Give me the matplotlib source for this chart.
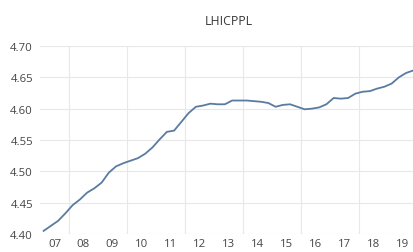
import numpy as np
import matplotlib
matplotlib.use('Agg')
import matplotlib.pyplot as plt

# quarterly series 2007Q1 - 2019Q4
lhicppl = [
    4.405, 4.413, 4.421, 4.433,
    4.446, 4.455, 4.466, 4.473,
    4.482, 4.498, 4.508, 4.513,
    4.517, 4.521, 4.528, 4.538,
    4.551, 4.563, 4.565, 4.579,
    4.593, 4.603, 4.605, 4.608,
    4.607, 4.607, 4.613, 4.613,
    4.613, 4.612, 4.611, 4.609,
    4.603, 4.606, 4.607, 4.603,
    4.599, 4.600, 4.602, 4.607,
    4.617, 4.616, 4.617, 4.624,
    4.627, 4.628, 4.632, 4.635,
    4.640, 4.650, 4.657, 4.661,
]
year_labels = ['07', '08', '09', '10', '11', '12', '13', '14', '15', '16', '17', '18', '19']
y_ticks = [4.40, 4.45, 4.50, 4.55, 4.60, 4.65, 4.70]

plt.rcParams['font.family'] = ['Open Sans', 'DejaVu Sans']

W, H = 414, 253
fig = plt.figure(figsize=(W / 100, H / 100), dpi=100)
ax = fig.add_axes([40 / W, (H - 235) / H, 377 / W, 188 / H])

x = np.arange(len(lhicppl))
ax.plot(x, lhicppl, color='#5a7ba1', linewidth=1.3, zorder=3)

ax.set_xlim(-0.5, len(lhicppl) - 0.5)
ax.set_ylim(4.40, 4.70)

# year labels in middle of each year, grid every 2 years
ax.set_xticks([1.5 + 4 * k for k in range(len(year_labels))])
ax.set_xticklabels(year_labels)
ax.set_xticks([3.5 + 8 * k for k in range(6)], minor=True)
ax.set_yticks(y_ticks)
ax.set_yticklabels([f'{v:.2f}' for v in y_ticks])

ax.grid(False)
ax.grid(True, which='minor', axis='x', color='#e8e8e8', linewidth=0.8)
ax.grid(True, which='major', axis='y', color='#e8e8e8', linewidth=0.8)

for s in ax.spines.values():
    s.set_visible(False)
ax.tick_params(which='both', length=0, labelsize=8.2, colors='#454545')
ax.tick_params(axis='x', pad=3)
ax.tick_params(axis='y', pad=5)

ax.set_title('LHICPPL', fontsize=8.8, color='#383838', pad=16)

fig.savefig('out.png', dpi=100)
